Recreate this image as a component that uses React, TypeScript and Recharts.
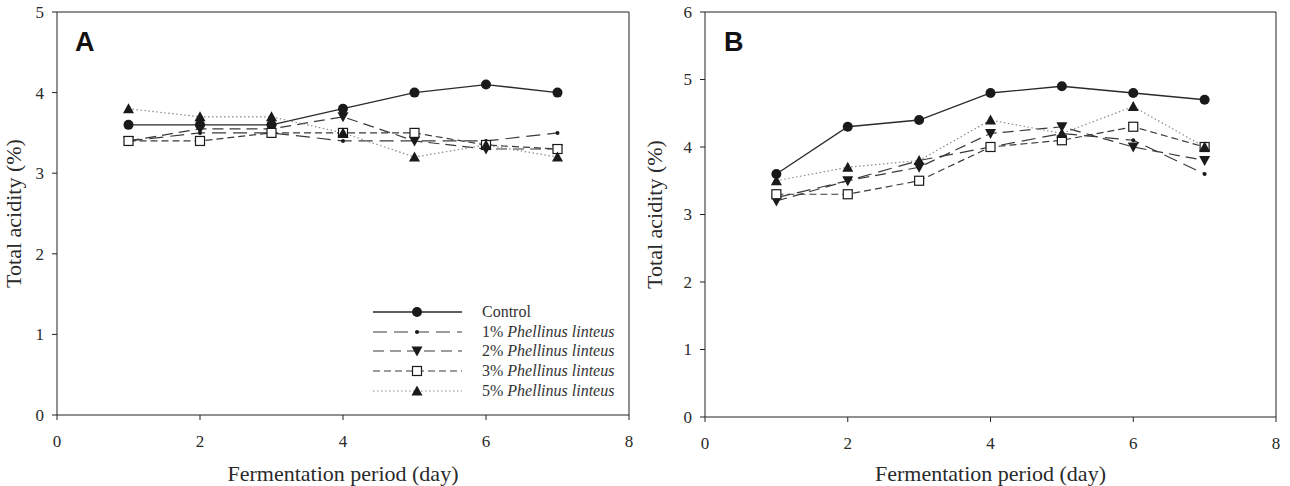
import React from "react";
import {
  LineChart,
  Line,
  XAxis,
  YAxis,
  ReferenceLine,
} from "recharts";

const days = [1, 2, 3, 4, 5, 6, 7];
const xTicks = [0, 2, 4, 6, 8];

// Panel A
const controlA = [3.6, 3.6, 3.6, 3.8, 4.0, 4.1, 4.0];
const pl1A = [3.4, 3.5, 3.5, 3.4, 3.4, 3.4, 3.5];
const pl2A = [3.4, 3.55, 3.55, 3.7, 3.4, 3.3, 3.3];
const pl3A = [3.4, 3.4, 3.5, 3.5, 3.5, 3.35, 3.3];
const pl5A = [3.8, 3.7, 3.7, 3.5, 3.2, 3.35, 3.2];
const yTicksA = [0, 1, 2, 3, 4, 5];

// Panel B
const controlB = [3.6, 4.3, 4.4, 4.8, 4.9, 4.8, 4.7];
const pl1B = [3.25, 3.5, 3.8, 4.0, 4.2, 4.1, 3.6];
const pl2B = [3.2, 3.5, 3.7, 4.2, 4.3, 4.0, 3.8];
const pl3B = [3.3, 3.3, 3.5, 4.0, 4.1, 4.3, 4.0];
const pl5B = [3.5, 3.7, 3.8, 4.4, 4.2, 4.6, 4.0];
const yTicksB = [0, 1, 2, 3, 4, 5, 6];

const legendLabels = ["Control", "1%", "2%", "3%", "5%"];

const buildRows = (c: number[], a: number[], b: number[], s: number[], d: number[]) =>
  days.map((day, i) => ({ day, control: c[i], pl1: a[i], pl2: b[i], pl3: s[i], pl5: d[i] }));

const rowsA = buildRows(controlA, pl1A, pl2A, pl3A, pl5A);
const rowsB = buildRows(controlB, pl1B, pl2B, pl3B, pl5B);

const SERIF = "'Liberation Serif', 'Times New Roman', serif";
const INK = "#1a1a1a";

type MarkerKind = "circle" | "dot" | "down" | "square" | "up";

function markerShape(kind: MarkerKind, cx: number, cy: number, key?: string) {
  switch (kind) {
    case "circle":
      return <circle key={key} cx={cx} cy={cy} r={5} fill={INK} />;
    case "dot":
      return <circle key={key} cx={cx} cy={cy} r={2} fill={INK} />;
    case "down":
      return (
        <path key={key} d={`M${cx - 5.5},${cy - 4.5}L${cx + 5.5},${cy - 4.5}L${cx},${cy + 5.5}Z`} fill={INK} />
      );
    case "up":
      return (
        <path key={key} d={`M${cx - 5.5},${cy + 4.5}L${cx + 5.5},${cy + 4.5}L${cx},${cy - 5.5}Z`} fill={INK} />
      );
    case "square":
      return (
        <rect key={key} x={cx - 4.5} y={cy - 4.5} width={9} height={9} fill="#fff" stroke={INK} strokeWidth={1.2} />
      );
  }
}

const seriesStyle: { key: string; kind: MarkerKind; dash?: string; color: string; width: number }[] = [
  { key: "control", kind: "circle", color: "#2a2a2a", width: 1.3 },
  { key: "pl1", kind: "dot", dash: "14 7", color: "#3a3a3a", width: 1.2 },
  { key: "pl2", kind: "down", dash: "11 6", color: "#3a3a3a", width: 1.2 },
  { key: "pl3", kind: "square", dash: "7 4", color: "#3a3a3a", width: 1.2 },
  { key: "pl5", kind: "up", dash: "1.5 2.5", color: "#8a8a8a", width: 1.2 },
];

// tick text drawn by hand so the serif face and size stick
function TickText(props: any) {
  const { x, y, payload, textAnchor, orientation } = props;
  const isX = orientation === "bottom";
  return (
    <text
      x={x}
      y={isX ? y + 12 : y}
      dy={isX ? 0 : "0.35em"}
      textAnchor={textAnchor}
      fontFamily={SERIF}
      fontSize={17}
      fill="#2a2a2a"
    >
      {payload.value}
    </text>
  );
}

const titleStyle = { fontFamily: SERIF, fontSize: 22, fill: "#2a2a2a", textAnchor: "middle" as const };

function Panel({
  rows,
  yMax,
  yTicks,
  letter,
  left,
  width,
  axisWidth,
  marginRight,
  bottom,
  yLabelOffset,
  letterLeft,
}: {
  rows: any[];
  yMax: number;
  yTicks: number[];
  letter: string;
  left: number;
  width: number;
  axisWidth: number;
  marginRight: number;
  bottom: number;
  yLabelOffset: number;
  letterLeft: number;
}) {
  return (
    <div style={{ position: "absolute", left, top: 0 }}>
      <LineChart
        width={width}
        height={486}
        data={rows}
        margin={{ top: 12, right: marginRight, left: 0, bottom: 0 }}
      >
        <XAxis
          dataKey="day"
          type="number"
          domain={[0, 8]}
          ticks={xTicks}
          height={bottom}
          stroke="#222"
          tickSize={5}
          tickMargin={15}
          tick={<TickText />}
          label={{
            value: "Fermentation period (day)",
            position: "insideBottom",
            offset: 5,
            style: titleStyle,
          }}
        />
        <YAxis
          type="number"
          domain={[0, yMax]}
          ticks={yTicks}
          width={axisWidth}
          stroke="#222"
          tickSize={5}
          tickMargin={8}
          tick={<TickText />}
          label={{
            value: "Total acidity (%)",
            angle: -90,
            position: "insideLeft",
            offset: yLabelOffset,
            style: titleStyle,
          }}
        />
        <ReferenceLine y={yMax} stroke="#222" />
        <ReferenceLine x={8} stroke="#222" />
        {seriesStyle.map((s) => (
          <Line
            key={s.key}
            dataKey={s.key}
            stroke={s.color}
            strokeWidth={s.width}
            strokeDasharray={s.dash}
            isAnimationActive={false}
            dot={(p: any) => markerShape(s.kind, p.cx, p.cy, `${s.key}-${p.index}`)}
            activeDot={false}
          />
        ))}
      </LineChart>
      <div
        style={{
          position: "absolute",
          left: letterLeft,
          top: 28,
          fontFamily: "'Liberation Sans', Arial, sans-serif",
          fontWeight: 700,
          fontSize: 27,
          color: "#111",
          lineHeight: "28px",
        }}
      >
        {letter}
      </div>
    </div>
  );
}

function LegendBox() {
  const rowH = 19.8;
  return (
    <div style={{ position: "absolute", left: 370, top: 302 }}>
      {seriesStyle.map((s, i) => (
        <div key={s.key} style={{ display: "flex", alignItems: "center", height: rowH }}>
          <svg width={96} height={14}>
            <line x1={3} y1={7} x2={92} y2={7} stroke={s.color} strokeWidth={s.width} strokeDasharray={s.dash} />
            {markerShape(s.kind, 47, 7)}
          </svg>
          <span
            style={{
              marginLeft: 16,
              fontFamily: SERIF,
              fontSize: 16,
              color: "#333",
              whiteSpace: "nowrap",
            }}
          >
            {i === 0 ? (
              legendLabels[i]
            ) : (
              <>
                {legendLabels[i]} <i>Phellinus linteus</i>
              </>
            )}
          </span>
        </div>
      ))}
    </div>
  );
}

export default function App() {
  return (
    <div style={{ position: "absolute", left: 0, top: 0, width: 1290, height: 486, background: "#fff", overflow: "hidden" }}>
      <Panel rows={rowsA} yMax={5} yTicks={yTicksA} letter="A" left={0} width={640} axisWidth={57} marginRight={11} bottom={71} yLabelOffset={13} letterLeft={75} />
      <LegendBox />
      <Panel rows={rowsB} yMax={6} yTicks={yTicksB} letter="B" left={640} width={650} axisWidth={65} marginRight={14} bottom={69} yLabelOffset={14} letterLeft={84} />
    </div>
  );
}
